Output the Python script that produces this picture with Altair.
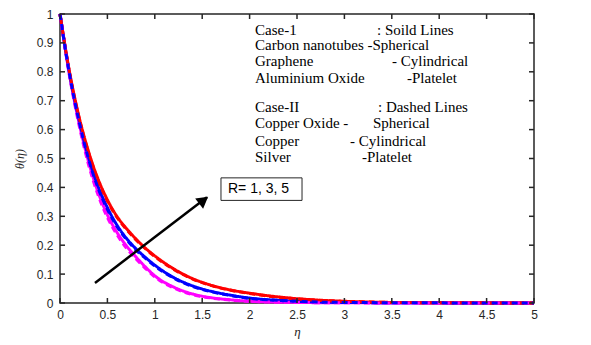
import altair as alt
import pandas as pd

eta = [0, 0.1, 0.2, 0.3, 0.4, 0.5, 0.6, 0.7, 0.8, 0.9, 1.0, 1.2, 1.4, 1.6, 1.8, 2.0,
       2.25, 2.5, 2.75, 3.0, 3.5, 4.0, 4.5, 5.0]

# Case-I (solid)
r1_solid = [1, 0.79, 0.625, 0.49, 0.385, 0.305, 0.245, 0.198, 0.16, 0.125, 0.094, 0.055,
            0.031, 0.018, 0.011, 0.006, 0.0035, 0.002, 0.001, 0.0007, 0.0003, 0.0002, 0.0001, 0]
r3_solid = [1, 0.795, 0.635, 0.505, 0.405, 0.33, 0.27, 0.224, 0.188, 0.158, 0.131, 0.088,
            0.059, 0.040, 0.027, 0.017, 0.010, 0.006, 0.0035, 0.002, 0.001, 0.0005, 0.0002, 0.0001]
r5_solid = [1, 0.80, 0.645, 0.525, 0.43, 0.357, 0.30, 0.258, 0.222, 0.19, 0.163, 0.118,
            0.084, 0.061, 0.045, 0.034, 0.023, 0.015, 0.0095, 0.006, 0.002, 0.001, 0.0004, 0.0002]
# Case-II (dashed)
r1_dash = [1, 0.786, 0.617, 0.48, 0.375, 0.296, 0.237, 0.19, 0.153, 0.12, 0.09, 0.052,
           0.029, 0.017, 0.010, 0.0055, 0.003, 0.002, 0.001, 0.0006, 0.0003, 0.0002, 0.0001, 0]
r3_dash = [1, 0.792, 0.63, 0.499, 0.399, 0.324, 0.265, 0.22, 0.184, 0.155, 0.128, 0.086,
           0.057, 0.039, 0.026, 0.016, 0.010, 0.006, 0.003, 0.002, 0.001, 0.0005, 0.0002, 0.0001]
r5_dash = [1, 0.798, 0.642, 0.521, 0.426, 0.353, 0.297, 0.255, 0.219, 0.188, 0.161, 0.116,
           0.083, 0.060, 0.044, 0.033, 0.022, 0.014, 0.009, 0.0055, 0.002, 0.001, 0.0004, 0.0002]

x_ticks = [0, 0.5, 1, 1.5, 2, 2.5, 3, 3.5, 4, 4.5, 5]
y_ticks = [0, 0.1, 0.2, 0.3, 0.4, 0.5, 0.6, 0.7, 0.8, 0.9, 1]

# annotation text (data coordinates)
ann_text = ["Case-1", ": Soild Lines", "Carbon nanotubes -Spherical", "Graphene", "- Cylindrical",
            "Aluminium Oxide", "-Platelet", "Case-II", ":  Dashed Lines", "Copper Oxide -",
            "Spherical", "Copper", "- Cylindrical", "Silver", "-Platelet"]
ann_x = [2.057, 3.344, 2.057, 2.057, 3.502, 2.057, 3.660, 2.057, 3.354, 2.057, 3.302,
         2.057, 3.059, 2.057, 3.186]
ann_y = [0.946, 0.946, 0.892, 0.839, 0.839, 0.779, 0.779, 0.677, 0.677, 0.622, 0.622,
         0.560, 0.560, 0.506, 0.506]

rows = []
for name, vals, dash, col in [("s1", r1_solid, "solid", "#ff00ff"), ("s3", r3_solid, "solid", "#0000ff"),
                              ("s5", r5_solid, "solid", "#ff0000"), ("d5", r5_dash, "dash", "#ff0000"),
                              ("d1", r1_dash, "dash", "#ff00ff"), ("d3", r3_dash, "dash", "#0000ff")]:
    for e, v in zip(eta, vals):
        rows.append({"eta": e, "theta": v, "series": name, "style": dash, "color": col})
df = pd.DataFrame(rows)

W, H = 474, 289
xs = alt.Scale(domain=[0, 5], nice=False)
ys = alt.Scale(domain=[0, 1], nice=False)

XAXIS = alt.Axis(values=x_ticks, format="~g", title="η", grid=False,
                 domain=False, ticks=False, labelOverlap=False, labelFlush=False,
                 labelFont="Liberation Sans", labelFontSize=12,
                 labelColor="#262626", labelPadding=6, titleFont="Liberation Serif",
                 titleFontStyle="italic", titleFontWeight="normal", titleFontSize=13,
                 titleColor="#262626", titlePadding=5)
YAXIS = alt.Axis(values=y_ticks, format="~g", title="θ(η)", grid=False,
                 domain=False, ticks=False, labelOverlap=False, labelFlush=False,
                 labelFont="Liberation Sans", labelFontSize=12,
                 labelColor="#262626", labelPadding=7, titleFont="Liberation Serif",
                 titleFontStyle="italic", titleFontWeight="normal", titleFontSize=12,
                 titleColor="#262626", titlePadding=10)


def X(f):
    return alt.X(f, scale=xs, axis=XAXIS, title="η")


def Y(f):
    return alt.Y(f, scale=ys, axis=YAXIS, title="θ(η)")


layers = []
order = ["s1", "s3", "s5", "d5", "d1", "d3"]
for name in order:
    sub = df[df.series == name]
    style = sub["style"].iloc[0]
    col = sub["color"].iloc[0]
    m = alt.Chart(sub).mark_line(color=col, strokeWidth=3, interpolate="monotone",
                                 strokeDash=[6, 4] if style == "dash" else [1, 0])
    layers.append(m.encode(x=X("eta:Q"), y=Y("theta:Q")))

# inward ticks
xt = pd.DataFrame({"v": x_ticks})
yt = pd.DataFrame({"v": y_ticks})
tk = dict(color="#262626", strokeWidth=1.5)
layers.append(alt.Chart(xt).mark_rule(**tk).encode(x=X("v:Q"), y=alt.value(H), y2=alt.value(H - 5)))
layers.append(alt.Chart(xt).mark_rule(**tk).encode(x=X("v:Q"), y=alt.value(0), y2=alt.value(5)))
layers.append(alt.Chart(yt).mark_rule(**tk).encode(y=Y("v:Q"), x=alt.value(0), x2=alt.value(5)))
layers.append(alt.Chart(yt).mark_rule(**tk).encode(y=Y("v:Q"), x=alt.value(W), x2=alt.value(W - 5)))

# arrow
arrow_x = [0.369]
arrow_y = [0.0696]
arrow_x2 = [1.55]
arrow_y2 = [0.366]
arr = pd.DataFrame({"x": arrow_x, "y": arrow_y, "x2": arrow_x2, "y2": arrow_y2})
layers.append(alt.Chart(arr).mark_rule(color="black", strokeWidth=2.5).encode(
    x=X("x:Q"), y=Y("y:Q"), x2="x2:Q", y2="y2:Q"))
head = pd.DataFrame({"x": [1.515], "y": [0.356]})
layers.append(alt.Chart(head).mark_point(shape="triangle-up", filled=True, color="black", size=170,
                                         angle=52.5, opacity=1).encode(x=X("x:Q"), y=Y("y:Q")))

# R box
box = pd.DataFrame({"x": [1.698], "x2": [2.553], "y": [0.355], "y2": [0.433]})
layers.append(alt.Chart(box).mark_rect(fill="white", stroke="#262626", strokeWidth=1).encode(
    x=X("x:Q"), x2="x2:Q", y=Y("y:Q"), y2="y2:Q"))
rt = pd.DataFrame({"x": [1.772], "y": [0.394], "t": ["R= 1, 3, 5"]})
layers.append(alt.Chart(rt).mark_text(align="left", baseline="middle", font="Liberation Sans",
                                      fontSize=14, color="black").encode(
    x=X("x:Q"), y=Y("y:Q"), text="t:N"))

ann = pd.DataFrame({"x": ann_x, "y": ann_y, "t": ann_text})
layers.append(alt.Chart(ann).mark_text(align="left", baseline="middle", font="Liberation Serif",
                                       fontSize=15, color="black").encode(
    x=X("x:Q"), y=Y("y:Q"), text="t:N"))

chart = alt.layer(*layers).properties(
    width=W, height=H,
    autosize=alt.AutoSizeParams(type="none"),
    padding={"left": 52, "top": 6, "right": 40, "bottom": 40},
).configure_view(stroke="#262626", strokeWidth=1.5)

chart.save("out.html", embed_options={"renderer": "svg", "actions": False})
